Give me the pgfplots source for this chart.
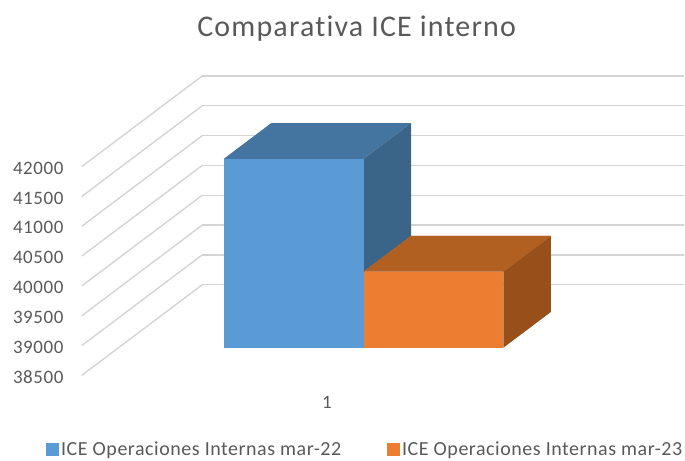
\documentclass[border=0pt]{standalone}
\usepackage{fontspec}
\setmainfont{Carlito}[Ligatures=NoCommon]
\usepackage{pgfplots}
\pgfplotsset{compat=1.18}
\definecolor{bluefront}{HTML}{5B9BD5}
\definecolor{bluetop}{HTML}{4474A0}
\definecolor{blueside}{HTML}{3A6488}
\definecolor{orfront}{HTML}{ED7D31}
\definecolor{ortop}{HTML}{B25F22}
\definecolor{orside}{HTML}{98501A}
\definecolor{txt}{HTML}{595959}
\definecolor{gridc}{HTML}{D4D4D4}
\newcommand{\sized}[2]{\fontsize{#1}{#1}\selectfont\addfontfeature{LetterSpace=#2}}
\begin{document}
\begin{tikzpicture}[x=1pt,y=1pt]
\path (0,0) rectangle (685,461);
\begin{axis}[
  at={(82pt,85.3pt)}, anchor=south west,
  x={(1pt,0pt)}, y={(120.5pt,90.7pt)}, z={(0pt,0.05972pt)},
  xmin=0, xmax=482.5, ymin=0, ymax=1, zmin=38500, zmax=42000,
  clip=false,
  axis line style={draw=none},
  xtick={245.2}, xticklabels={1}, ytick=\empty,
  ztick={38500,39000,39500,40000,40500,41000,41500,42000},
  scaled z ticks=false,
  major tick length=0pt,
  zmajorgrids, xmajorgrids=false,
  grid style={gridc, line width=1.4pt},
  tick label style={font=\sized{19}{3}, text=txt},
  x tick label style={yshift=-17pt, xshift=5pt},
  z tick label style={xshift=-15pt, yshift=8pt, /pgf/number format/fixed, /pgf/number format/precision=0, /pgf/number format/set thousands separator={}, /pgf/number format/assume math mode=true},
  legend columns=2,
  legend style={draw=none, fill=none, at={(-0.0597,-0.2145)}, anchor=north west,
    font=\sized{20}{2.7}, text=txt, inner sep=0pt,
    /tikz/every even column/.append style={column sep=44pt}},
  legend image code/.code={\fill[#1] (-2pt,-6.5pt) rectangle (11pt,6.5pt);},
]
\addlegendimage{bluefront, draw=none, fill=bluefront}
\addlegendentry{ICE Operaciones Internas mar-22}
\addlegendimage{orfront, draw=none, fill=orfront}
\addlegendentry{ICE Operaciones Internas mar-23}
% blue bar
\addplot3[draw=none, fill=bluetop] coordinates {(105.2,0.305,41665)(245.2,0.305,41665)(245.2,0.70,41665)(105.2,0.70,41665)} -- cycle;
\addplot3[draw=none, fill=blueside] coordinates {(245.2,0.305,39773)(245.2,0.70,39773)(245.2,0.70,41665)(245.2,0.305,41665)} -- cycle;
\addplot3[draw=none, fill=bluefront] coordinates {(105.2,0.305,38500)(245.2,0.305,38500)(245.2,0.305,41665)(105.2,0.305,41665)} -- cycle;
% orange bar
\addplot3[draw=ortop, line width=0.2pt, fill=ortop] coordinates {(245.2,0.305,39773)(385.2,0.305,39773)(385.2,0.70,39773)(245.2,0.70,39773)} -- cycle;
\addplot3[draw=none, fill=orside] coordinates {(385.2,0.305,38500)(385.2,0.70,38500)(385.2,0.70,39773)(385.2,0.305,39773)} -- cycle;
\addplot3[draw=none, fill=orfront] coordinates {(245.2,0.305,38500)(385.2,0.305,38500)(385.2,0.305,39773)(245.2,0.305,39773)} -- cycle;
\end{axis}
\node[text=txt, font=\sized{30}{4}, anchor=center] at (357,432) {Comparativa ICE interno};
\end{tikzpicture}
\end{document}
